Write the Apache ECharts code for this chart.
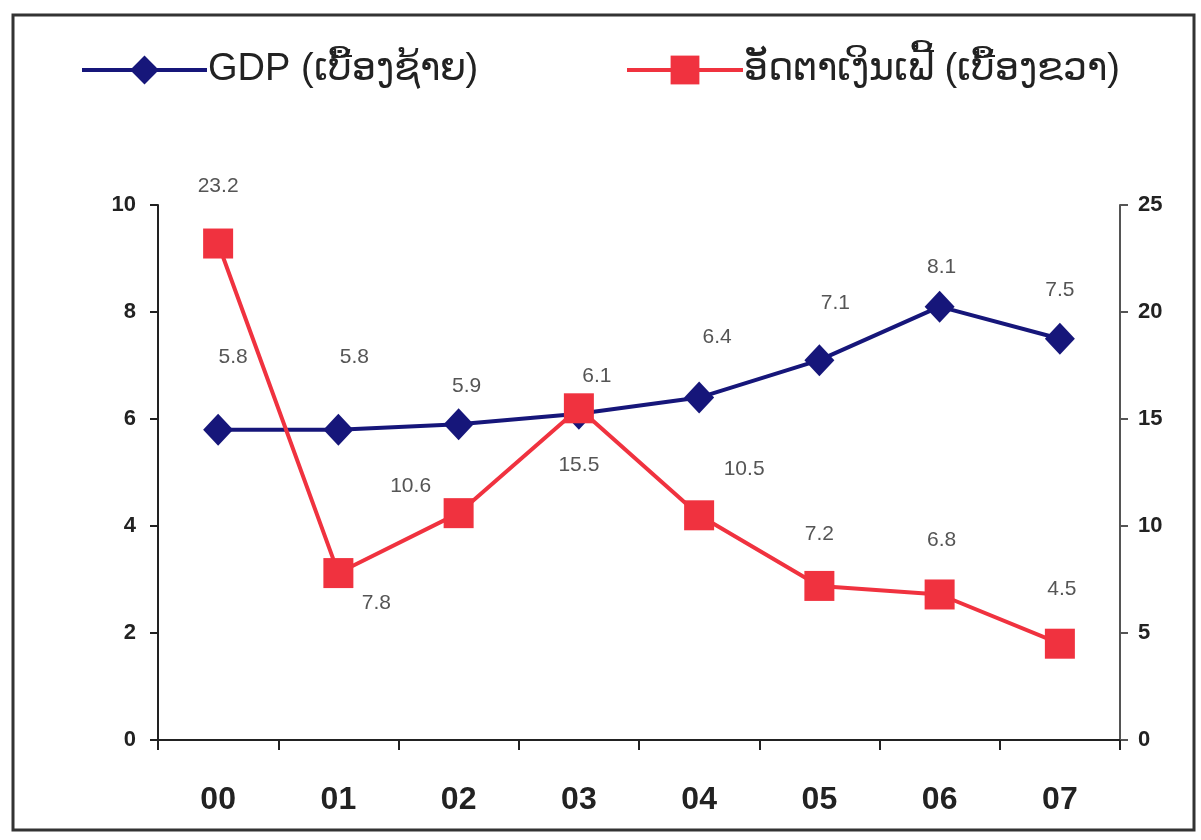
<!DOCTYPE html>
<html><head><meta charset="utf-8">
<script src="https://cdn.jsdelivr.net/npm/echarts@6/dist/echarts.min.js"></script>
<style>html,body{margin:0;padding:0;background:#fff}#c{width:1201px;height:840px}</style>
</head><body><div id="c"></div>
<script>
const categories = ['00','01','02','03','04','05','06','07'];
const gdpValues = [5.8, 5.8, 5.9, 6.1, 6.4, 7.1, 8.1, 7.5];
const inflationValues = [23.2, 7.8, 10.6, 15.5, 10.5, 7.2, 6.8, 4.5];
const gdpName = 'GDP (ເບື້ອງຊ້າຍ)';
const inflationName = 'ອັດຕາເງິນເຟີ້ (ເບື້ອງຂວາ)';

// label placement (style only)
const gdpLabelOffsets = [[15,-72],[16,-72],[8,-38],[18,-37],[18,-60],[16,-57],[2,-39],[0,-49]];
const infLabelOffsets = [[0,-57],[38,30],[-48,-27],[0,57],[45,-46],[0,-52],[2,-54],[2,-54]];

const FONT = 'Arial, "Liberation Sans", sans-serif';
const labelStyle = {show:true, position:'inside', color:'#555', fontSize:21, fontFamily:FONT};

const chart = echarts.init(document.getElementById('c'));
chart.setOption({
  backgroundColor:'#fff',
  animation:false,
  graphic:[{type:'rect', shape:{x:13,y:15,width:1181,height:815}, style:{fill:'none', stroke:'#333', lineWidth:3}}],
  legend:[
    {data:[gdpName], left:75, top:46, itemWidth:125, itemHeight:36, itemGap:10,
     lineStyle:{width:4},
     textStyle:{fontSize:38, color:'#222', fontFamily:FONT, padding:[0,0,0,-4]}},
    {data:[inflationName], left:620, top:46, itemWidth:116, itemHeight:36,
     lineStyle:{width:4},
     textStyle:{fontSize:38, color:'#222', fontFamily:FONT, padding:[0,0,0,-4]}}
  ],
  grid:{left:158, right:81, top:205, bottom:100},
  xAxis:{type:'category', data:categories, boundaryGap:true,
    axisLine:{lineStyle:{color:'#222', width:2}},
    axisTick:{show:true, length:10, lineStyle:{color:'#222', width:2}},
    axisLabel:{fontSize:32, fontWeight:'bold', color:'#222', margin:44, fontFamily:FONT}},
  yAxis:[
    {type:'value', min:0, max:10, interval:2,
     axisLine:{show:true, lineStyle:{color:'#222', width:2}},
     axisTick:{show:true, length:8, lineStyle:{color:'#222', width:2}},
     splitLine:{show:false},
     axisLabel:{fontSize:22, fontWeight:'bold', color:'#222', margin:22, fontFamily:FONT}},
    {type:'value', min:0, max:25, interval:5, position:'right',
     axisLine:{show:true, lineStyle:{color:'#555', width:2}},
     axisTick:{show:true, inside:false, length:8, lineStyle:{color:'#555', width:2}},
     splitLine:{show:false},
     axisLabel:{fontSize:22, fontWeight:'bold', color:'#222', margin:18, fontFamily:FONT}}
  ],
  series:[
    {name:gdpName, type:'line', yAxisIndex:0, symbol:'diamond', symbolSize:[30,32],
     lineStyle:{color:'#16167a', width:4}, itemStyle:{color:'#16167a'},
     data:gdpValues.map((v,i)=>({value:v, label:Object.assign({}, labelStyle, {offset:gdpLabelOffsets[i]})})),
     z:3},
    {name:inflationName, type:'line', yAxisIndex:1, symbol:'rect', symbolSize:30,
     lineStyle:{color:'#f0323f', width:4}, itemStyle:{color:'#f0323f'},
     data:inflationValues.map((v,i)=>({value:v, label:Object.assign({}, labelStyle, {offset:infLabelOffsets[i]})})),
     z:4}
  ]
});
</script></body></html>
